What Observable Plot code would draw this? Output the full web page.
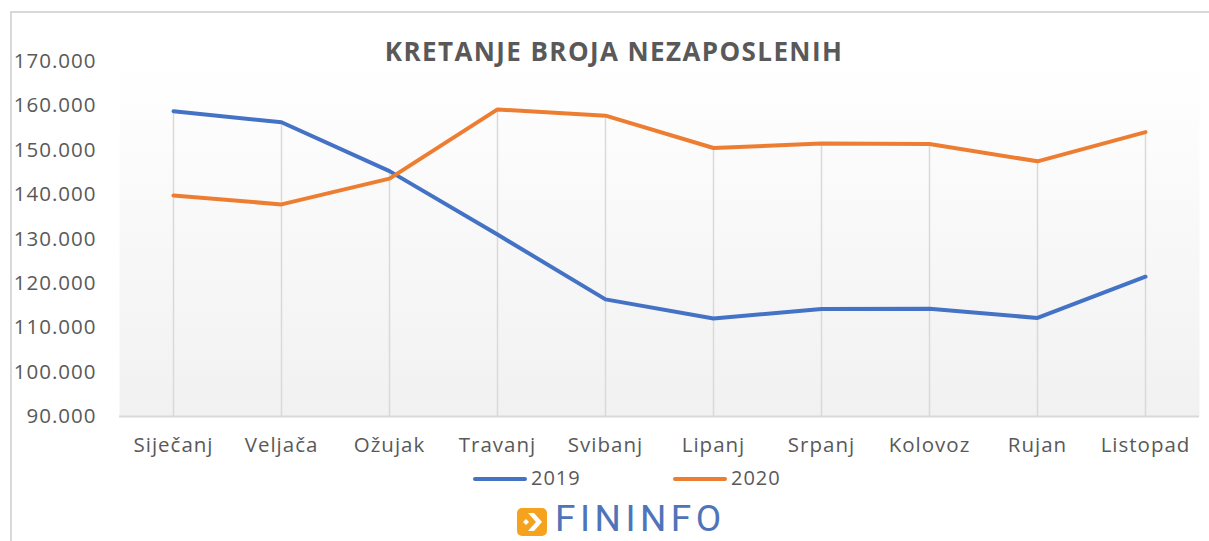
<!DOCTYPE html>
<html>
<head>
<meta charset="utf-8">
<script src="https://cdn.jsdelivr.net/npm/d3@7"></script>
<script src="https://cdn.jsdelivr.net/npm/@observablehq/plot@0.6"></script>
<style>
  html, body { margin: 0; padding: 0; background: #fff; }
  #wrap { position: relative; width: 1209px; height: 541px; overflow: hidden; font-family: "Open Sans", sans-serif; }
  #border { position: absolute; left: 10px; top: 11px; width: 1300px; height: 700px; border-left: 2px solid #d9d9d9; border-top: 2px solid #d9d9d9; }
  #chart { position: absolute; left: 0; top: 0; }
  #chart svg text { letter-spacing: 1px; }
  #title { position: absolute; left: 0; width: 1228px; top: 33px; text-align: center; font-weight: 700; font-size: 26px; color: #595959; letter-spacing: 1.4px; }
  .leg { position: absolute; top: 465px; height: 28px; font-size: 20px; color: #595959; letter-spacing: 1px; }
  .leg .sw { position: absolute; top: 12px; height: 4px; width: 54px; border-radius: 2px; }
  .leg .lbl { position: absolute; top: -1px; }
  #logo { position: absolute; left: 517px; top: 506px; height: 34px; }
  #logo .txt { position: absolute; left: 38px; top: -9px; font-family: Roboto, sans-serif; font-size: 37px; color: #4f74b9; letter-spacing: 4.5px; white-space: nowrap; }
</style>
</head>
<body>
<div id="wrap">
  <div id="border"></div>
  <div id="chart"></div>
  <div id="title">KRETANJE BROJA NEZAPOSLENIH</div>
  <div class="leg" style="left:473px"><div class="sw" style="left:0;background:#4472C4"></div><div class="lbl" style="left:58px">2019</div></div>
  <div class="leg" style="left:673px"><div class="sw" style="left:0;background:#ED7D31"></div><div class="lbl" style="left:58px">2020</div></div>
  <div id="logo">
    <svg width="30" height="28" viewBox="0 0 30 28" style="position:absolute;left:0;top:2px">
      <rect x="0" y="0" width="30" height="28" rx="5" fill="#F5A31F"/>
      <polygon points="11,5 17,5 25,14 17,23 11,23 19,14" fill="#fff"/>
      <polygon points="9,11 12,14 9,17 6,14" fill="#fff"/>
    </svg>
    <div class="txt">FININFO</div>
  </div>
</div>
<script>
const months = ["Siječanj", "Veljača", "Ožujak", "Travanj", "Svibanj", "Lipanj", "Srpanj", "Kolovoz", "Rujan", "Listopad"];
const values2019 = [158800, 156300, 145300, 131000, 116400, 112100, 114200, 114300, 112200, 121500];
const values2020 = [139800, 137800, 143600, 159200, 157800, 150500, 151500, 151400, 147500, 154100];
const series = ["2019", "2020"];
const yTicks = [90000, 100000, 110000, 120000, 130000, 140000, 150000, 160000, 170000];

const data = months.flatMap((m, i) => [
  {month: m, year: series[0], value: values2019[i]},
  {month: m, year: series[1], value: values2020[i]}
]);
const drops = months.map((m, i) => ({month: m, top: Math.max(values2019[i], values2020[i])}));

const hr = d3.formatLocale({decimal: ",", thousands: ".", grouping: [3], currency: ["", ""]});
const fmt = hr.format(",");

const svg = Plot.plot({
  width: 1209,
  height: 541,
  marginLeft: 119,
  marginRight: 10,
  marginTop: 61,
  marginBottom: 125,
  x: {type: "point", domain: months, padding: 0.5, label: null},
  y: {domain: [90000, 170000], label: null},
  color: {domain: series, range: ["#4472C4", "#ED7D31"]},
  style: {fontFamily: "Open Sans, sans-serif", fontSize: "20.5px", color: "#595959", background: "transparent"},
  marks: [
    Plot.frame({fill: "url(#plotbg)", stroke: "none"}),
    Plot.ruleX(drops, {x: "month", y1: 90000, y2: "top", stroke: "#d9d9d9", strokeWidth: 1.5}),
    Plot.ruleY([90000], {stroke: "#d9d9d9", strokeWidth: 2}),
    Plot.axisY({ticks: yTicks, tickSize: 0, tickPadding: 23, tickFormat: fmt, fill: "#595959", label: null}),
    Plot.axisX({tickSize: 0, tickPadding: 21, fill: "#595959", label: null}),
    Plot.line(data, {x: "month", y: "value", z: "year", stroke: "year", strokeWidth: 4, strokeLinejoin: "round", strokeLinecap: "round"})
  ]
});

const defs = d3.select(svg).insert("defs", ":first-child");
const g = defs.append("linearGradient").attr("id", "plotbg").attr("x1", 0).attr("y1", 0).attr("x2", 0).attr("y2", 1);
g.append("stop").attr("offset", "0%").attr("stop-color", "#ffffff");
g.append("stop").attr("offset", "100%").attr("stop-color", "#f1f1f1");

document.getElementById("chart").appendChild(svg);
</script>
</body>
</html>
